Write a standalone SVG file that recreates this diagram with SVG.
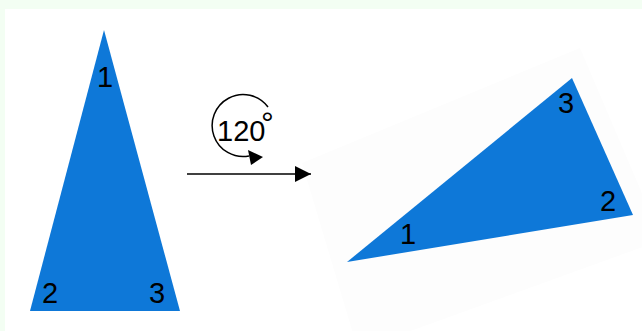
<svg xmlns="http://www.w3.org/2000/svg" width="642" height="331" viewBox="0 0 642 331">
<defs>
<style>
.tri{fill:#0e78d8}
.lbl{font-family:"Liberation Sans",Arial,sans-serif;font-size:29px;fill:#000}
.ln{stroke:#000;stroke-width:1.5;fill:none}
</style>
<marker id="ah" viewBox="0 0 16 16" refX="16" refY="8" markerWidth="16" markerHeight="16" markerUnits="userSpaceOnUse" orient="auto">
<path d="M0,0 L16,8 L0,16 Z" fill="#000"/>
</marker>
</defs>
<rect x="0" y="0" width="642" height="331" fill="#f3fef3"/>
<rect x="5" y="9" width="637" height="322" fill="#ffffff"/>
<polygon points="302,163 580,48 662,240 358,350" fill="#fdfdfd"/>
<g id="triangle-original">
<polygon class="tri" points="104,30 30,311 180,311"/>
<text class="lbl" x="105" y="87" text-anchor="middle">1</text>
<text class="lbl" x="50" y="303" text-anchor="middle">2</text>
<text class="lbl" x="157" y="303" text-anchor="middle">3</text>
</g>
<g id="rotation-label">
<path class="ln" d="M268,107 A31 31 0 1 0 249,156"/>
<polygon points="248,150 263,157 251,165" fill="#000"/>
<text class="lbl" x="217" y="141">120<tspan x="261" y="134" font-size="32">°</tspan></text>
</g>
<g id="connectors">
<line class="ln" x1="187" y1="174" x2="311" y2="174" marker-end="url(#ah)"/>
</g>
<g id="triangle-rotated">
<polygon class="tri" points="347,262 572,78 633,215"/>
<text class="lbl" x="408" y="244" text-anchor="middle">1</text>
<text class="lbl" x="608" y="211" text-anchor="middle">2</text>
<text class="lbl" x="566" y="113" text-anchor="middle">3</text>
</g>
</svg>
